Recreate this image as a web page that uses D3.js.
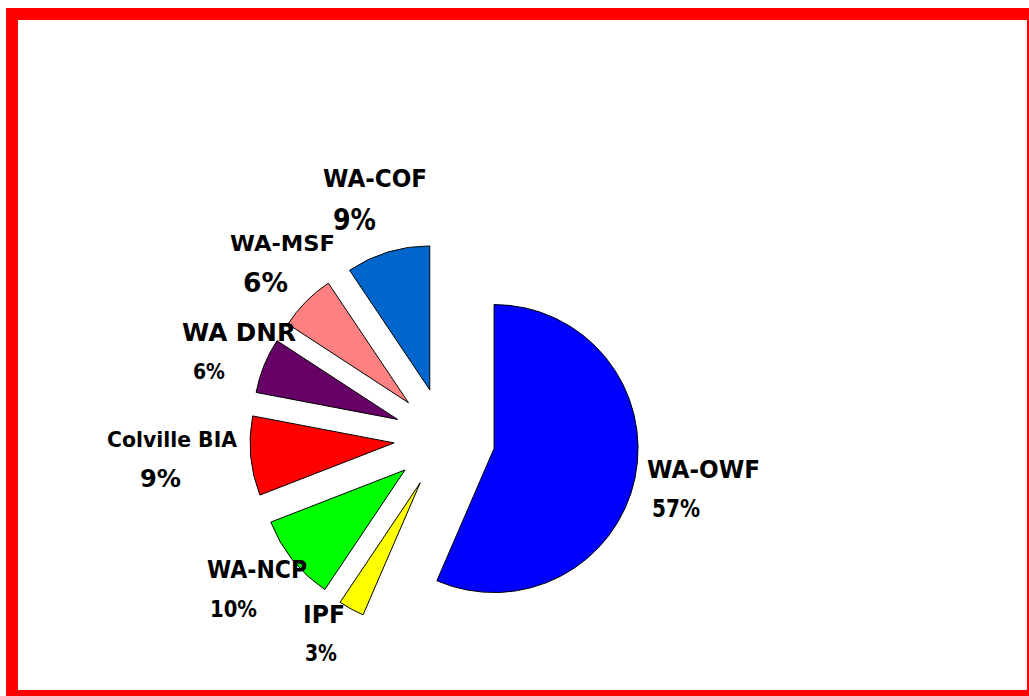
<!DOCTYPE html>
<html>
  <head>
    <meta charset="utf-8">
    <title>Exploded pie chart</title>
    <script src="https://d3js.org/d3.v7.min.js"></script>
    <style>
      body { margin: 0; background: #fff; }
      .slice { stroke: #000; stroke-width: 1; }
      .label text {
        font-family: "Comic Sans MS", "DejaVu Sans", sans-serif;
        font-weight: bold;
        fill: #000;
      }
    </style>
  </head>
  <body>
    <svg width="1029" height="696"></svg>
    <script>
      // data (shares, labels as printed)
      var names = ["WA-OWF", "IPF", "WA-NCP", "Colville BIA", "WA DNR", "WA-MSF", "WA-COF"];
      var shares = [56.5, 2.9, 9.7, 8.9, 6.2, 6.4, 9.4];
      var pctLabels = ["57%", "3%", "10%", "9%", "6%", "6%", "9%"];
      var colors = ["#0000ff", "#ffff00", "#00ff00", "#ff0000", "#660066", "#ff8080", "#0066cc"];

      // label layout: [x, baseline, width, font size] for name and percent
      var nameLayout = [
        [647, 478, 113, 24], [303, 623, 42, 24], [207, 578, 100, 24], [107, 447, 130, 22],
        [182, 341, 114, 24], [230, 251, 105, 22], [323, 187, 104, 24]
      ];
      var pctLayout = [
        [652, 517, 48, 24], [305, 661, 32, 23], [210, 617, 47, 23], [140, 487, 41, 24],
        [193, 379, 32, 22], [243, 292, 45, 26], [333, 230, 43, 30]
      ];

      var svg = d3.select("svg");

      svg.append("rect")
          .attr("width", 1029).attr("height", 696)
          .attr("fill", "#fff");

      // red frame
      svg.append("rect")
          .attr("x", 12).attr("y", 14)
          .attr("width", 1021).attr("height", 682)
          .attr("fill", "none")
          .attr("stroke", "#ff0000")
          .attr("stroke-width", 12);

      var cx = 444.5, cy = 438.3, radius = 144, explode = 50.6;

      var pie = d3.pie().sort(null).value(function(d) { return d; });
      var arc = d3.arc().innerRadius(0).outerRadius(radius);
      var arcs = pie(shares);

      var g = svg.append("g")
          .attr("transform", "translate(" + cx + "," + cy + ")");

      g.selectAll(".slice")
          .data(arcs)
          .enter().append("path")
          .attr("class", "slice")
          .attr("fill", function(d, i) { return colors[i]; })
          .attr("transform", function(d) {
            var mid = (d.startAngle + d.endAngle) / 2;
            return "translate(" + (explode * Math.sin(mid)) + "," + (-explode * Math.cos(mid)) + ")";
          })
          .attr("d", arc);

      var labels = svg.append("g").attr("class", "label");

      function addText(txt, p) {
        labels.append("text")
            .attr("x", p[0]).attr("y", p[1])
            .attr("textLength", p[2])
            .attr("lengthAdjust", "spacingAndGlyphs")
            .style("font-size", p[3] + "px")
            .text(txt);
      }

      names.forEach(function(n, i) {
        addText(n, nameLayout[i]);
        addText(pctLabels[i], pctLayout[i]);
      });
    </script>
  </body>
</html>
